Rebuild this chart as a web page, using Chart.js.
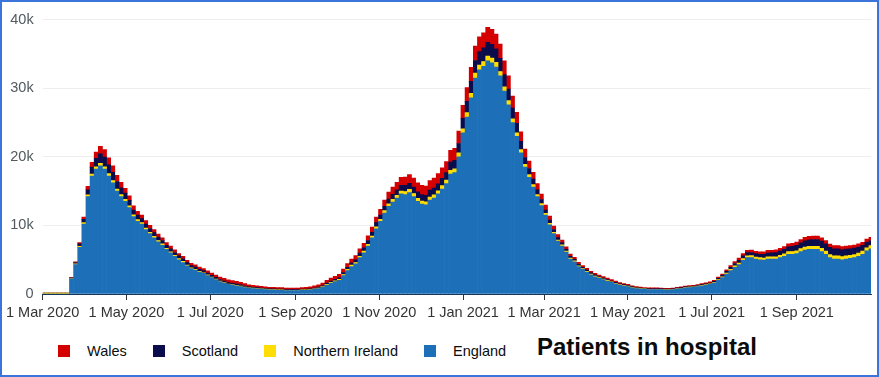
<!DOCTYPE html>
<html>
<head>
<meta charset="utf-8">
<script src="https://cdn.jsdelivr.net/npm/chart.js@4.4.1/dist/chart.umd.min.js"></script>
<style>
  body { margin: 0; background: #fff; }
  #frame { position: relative; width: 879px; height: 377px; box-sizing: border-box; border: 2px solid #3b75dc; background: #fff; overflow: hidden; font-family: 'Liberation Sans', Arial, sans-serif; }
  #plot { position: absolute; left: 0; top: 0; width: 875px; height: 322px; }
  #foot { position: absolute; left: 56px; top: 334px; height: 30px; display: flex; align-items: center; }
  .item { display: flex; align-items: center; margin-right: 26px; font-size: 14.5px; color: #0b0c0c; }
  .swatch { width: 12px; height: 12px; margin-right: 17px; }
  #title { position: absolute; left: 535px; top: 331px; font-size: 24px; font-weight: bold; color: #0b0c0c; }
</style>
</head>
<body>
<div id="frame">
  <div id="plot"><canvas id="chart"></canvas></div>
  <div id="foot"></div>
  <div id="title">Patients in hospital</div>
</div>
<script>
// patients in hospital, thousands, one value every 3 days from 1 Mar 2020
const stepDays = 3;

const england = [
  0, 0, 0, 0, 0, 0, 0, 2.2, 4.3, 6.8,
  10.2, 14.2, 17.2, 18.2, 18.7, 18.2, 17.2, 16.2, 15.0, 14.2,
  13.5, 12.6, 11.3, 10.6, 10.2, 9.4, 8.8, 8.2, 7.6, 7.1,
  6.5, 6.0, 5.5, 5.0, 4.6, 4.1, 3.7, 3.5, 3.2, 3.0,
  2.7, 2.4, 2.1, 1.8, 1.6, 1.4, 1.3, 1.2, 1.1, 0.95,
  0.85, 0.8, 0.75, 0.7, 0.65, 0.6, 0.6, 0.55, 0.55, 0.5,
  0.5, 0.5, 0.5, 0.55, 0.55, 0.6, 0.7, 0.8, 1.0, 1.3,
  1.6, 1.8, 2.0, 2.7, 3.4, 4.0, 4.4, 5.3, 6.0, 7.0,
  8.2, 9.5, 10.6, 11.8, 12.8, 13.4, 14.0, 14.6, 14.5, 14.8,
  14.2, 13.5, 13.1, 13.0, 13.7, 14.0, 14.6, 15.3, 16.1, 17.5,
  17.7, 20.0, 23.5, 25.8, 28.6, 31.5, 32.7, 33.2, 34.0, 33.7,
  33.1, 31.8, 29.6, 27.6, 25.0, 23.0, 20.6, 18.5, 17.0, 15.6,
  14.2, 12.9, 11.5, 10.1, 8.8, 7.7, 7.0, 6.1, 5.1, 4.7,
  4.0, 3.6, 3.2, 2.8, 2.5, 2.3, 2.1, 1.9, 1.7, 1.5,
  1.3, 1.2, 1.1, 0.9, 0.8, 0.75, 0.7, 0.65, 0.65, 0.65,
  0.65, 0.6, 0.6, 0.65, 0.75, 0.8, 0.9, 0.95, 1.0, 1.1,
  1.2, 1.3, 1.4, 1.6, 2.0, 2.4, 2.9, 3.4, 3.9, 4.3,
  4.9, 5.3, 5.3, 5.1, 5.0, 4.95, 5.1, 5.1, 5.1, 5.3,
  5.5, 5.8, 5.8, 5.9, 6.2, 6.4, 6.5, 6.5, 6.5, 6.2,
  5.8, 5.3, 5.1, 5.1, 5.0, 5.1, 5.2, 5.3, 5.5, 5.8,
  6.3, 6.6
];

const northernIreland = [
  0.15, 0.15, 0.15, 0.15, 0.15, 0.15, 0.15, 0.05, 0.1, 0.15,
  0.2, 0.25, 0.3, 0.35, 0.35, 0.35, 0.35, 0.35, 0.3, 0.3,
  0.3, 0.25, 0.25, 0.25, 0.2, 0.2, 0.2, 0.2, 0.2, 0.2,
  0.15, 0.15, 0.15, 0.15, 0.15, 0.12, 0.1, 0.1, 0.1, 0.1,
  0.08, 0.08, 0.07, 0.07, 0.07, 0.06, 0.06, 0.06, 0.05, 0.05,
  0.05, 0.05, 0.05, 0.05, 0.05, 0.05, 0.05, 0.05, 0.05, 0.05,
  0.05, 0.05, 0.05, 0.05, 0.05, 0.05, 0.06, 0.07, 0.08, 0.1,
  0.1, 0.12, 0.15, 0.15, 0.2, 0.2, 0.2, 0.2, 0.25, 0.25,
  0.25, 0.3, 0.3, 0.35, 0.35, 0.4, 0.4, 0.4, 0.45, 0.45,
  0.45, 0.45, 0.45, 0.45, 0.45, 0.45, 0.45, 0.5, 0.5, 0.55,
  0.55, 0.6, 0.6, 0.65, 0.65, 0.7, 0.7, 0.7, 0.7, 0.7,
  0.7, 0.65, 0.6, 0.6, 0.55, 0.5, 0.45, 0.4, 0.4, 0.35,
  0.3, 0.28, 0.25, 0.22, 0.2, 0.18, 0.16, 0.15, 0.14, 0.12,
  0.12, 0.1, 0.1, 0.1, 0.1, 0.09, 0.08, 0.08, 0.07, 0.07,
  0.06, 0.06, 0.05, 0.05, 0.05, 0.05, 0.04, 0.04, 0.04, 0.04,
  0.04, 0.04, 0.04, 0.04, 0.04, 0.04, 0.05, 0.05, 0.05, 0.05,
  0.06, 0.06, 0.07, 0.08, 0.1, 0.12, 0.15, 0.18, 0.2, 0.22,
  0.25, 0.28, 0.3, 0.3, 0.3, 0.3, 0.32, 0.32, 0.33, 0.35,
  0.35, 0.38, 0.4, 0.4, 0.42, 0.45, 0.45, 0.45, 0.45, 0.45,
  0.45, 0.45, 0.45, 0.45, 0.45, 0.45, 0.45, 0.45, 0.45, 0.45,
  0.45, 0.45
];

const scotland = [
  0, 0, 0, 0, 0, 0, 0, 0.1, 0.2, 0.35,
  0.5, 0.75, 1.0, 1.25, 1.4, 1.4, 1.3, 1.2, 1.1, 1.0,
  0.9, 0.8, 0.7, 0.65, 0.6, 0.6, 0.55, 0.55, 0.5, 0.5,
  0.45, 0.45, 0.4, 0.4, 0.38, 0.35, 0.33, 0.32, 0.3, 0.3,
  0.28, 0.26, 0.25, 0.24, 0.22, 0.2, 0.2, 0.18, 0.18, 0.16,
  0.15, 0.14, 0.13, 0.12, 0.12, 0.11, 0.1, 0.1, 0.1, 0.1,
  0.1, 0.1, 0.1, 0.1, 0.1, 0.1, 0.12, 0.14, 0.16, 0.18,
  0.2, 0.22, 0.25, 0.28, 0.3, 0.35, 0.4, 0.45, 0.5, 0.55,
  0.55, 0.6, 0.6, 0.65, 0.7, 0.75, 0.8, 0.85, 0.9, 0.9,
  0.95, 0.95, 0.95, 0.95, 1.0, 1.0, 1.0, 1.05, 1.1, 1.2,
  1.25, 1.35, 1.5, 1.65, 1.75, 1.85, 1.95, 2.0, 2.0, 2.0,
  1.95, 1.9, 1.8, 1.7, 1.55, 1.4, 1.2, 1.0, 0.9, 0.8,
  0.7, 0.6, 0.5, 0.45, 0.4, 0.35, 0.3, 0.28, 0.26, 0.24,
  0.22, 0.2, 0.2, 0.18, 0.18, 0.16, 0.15, 0.14, 0.13, 0.12,
  0.12, 0.1, 0.1, 0.09, 0.08, 0.08, 0.07, 0.07, 0.07, 0.07,
  0.07, 0.07, 0.07, 0.07, 0.08, 0.08, 0.09, 0.1, 0.1, 0.1,
  0.11, 0.12, 0.13, 0.15, 0.18, 0.2, 0.25, 0.3, 0.35, 0.4,
  0.42, 0.45, 0.45, 0.48, 0.5, 0.52, 0.55, 0.58, 0.6, 0.6,
  0.65, 0.7, 0.75, 0.8, 0.85, 0.9, 0.95, 1.0, 1.0, 1.05,
  1.05, 1.05, 1.05, 1.05, 1.0, 1.0, 0.95, 0.95, 0.9, 0.85,
  0.8, 0.75
];

const wales = [
  0, 0, 0, 0, 0, 0, 0, 0.05, 0.1, 0.2,
  0.3, 0.5, 0.7, 0.9, 1.1, 1.1, 1.0, 0.95, 0.9, 0.8,
  0.7, 0.65, 0.6, 0.55, 0.5, 0.5, 0.45, 0.45, 0.45, 0.4,
  0.4, 0.4, 0.38, 0.36, 0.35, 0.35, 0.34, 0.33, 0.33, 0.32,
  0.32, 0.32, 0.34, 0.36, 0.38, 0.4, 0.4, 0.4, 0.38, 0.35,
  0.3, 0.28, 0.26, 0.25, 0.23, 0.22, 0.22, 0.22, 0.22, 0.22,
  0.22, 0.22, 0.22, 0.24, 0.26, 0.28, 0.3, 0.32, 0.35, 0.4,
  0.42, 0.45, 0.48, 0.5, 0.52, 0.55, 0.6, 0.62, 0.65, 0.7,
  0.75, 0.8, 0.85, 0.9, 1.0, 1.05, 1.1, 1.15, 1.2, 1.25,
  1.3, 1.3, 1.35, 1.35, 1.4, 1.45, 1.5, 1.55, 1.6, 1.7,
  1.75, 1.8, 1.9, 2.0, 2.05, 2.1, 2.15, 2.2, 2.2, 2.2,
  2.15, 2.1, 2.0, 1.9, 1.75, 1.6, 1.4, 1.25, 1.1, 1.0,
  0.9, 0.8, 0.7, 0.6, 0.5, 0.45, 0.4, 0.36, 0.33, 0.3,
  0.28, 0.26, 0.25, 0.24, 0.23, 0.22, 0.21, 0.2, 0.2, 0.19,
  0.18, 0.17, 0.16, 0.15, 0.15, 0.14, 0.14, 0.13, 0.13, 0.13,
  0.12, 0.12, 0.12, 0.12, 0.12, 0.12, 0.12, 0.13, 0.13, 0.13,
  0.14, 0.15, 0.16, 0.17, 0.18, 0.2, 0.22, 0.25, 0.28, 0.3,
  0.32, 0.35, 0.35, 0.35, 0.36, 0.37, 0.38, 0.38, 0.4, 0.4,
  0.42, 0.44, 0.45, 0.46, 0.48, 0.5, 0.5, 0.5, 0.5, 0.5,
  0.5, 0.48, 0.46, 0.45, 0.45, 0.45, 0.45, 0.45, 0.45, 0.45,
  0.45, 0.45
];

// x axis: days since 1 Mar 2020
const tickDays = [0, 61, 122, 184, 245, 306, 365, 426, 487, 549];
const tickLabels = ['1 Mar 2020', '1 May 2020', '1 Jul 2020', '1 Sep 2020', '1 Nov 2020',
                    '1 Jan 2021', '1 Mar 2021', '1 May 2021', '1 Jul 2021', '1 Sep 2021'];
const lastDay = 603;

const seriesNames = ['England', 'Northern Ireland', 'Scotland', 'Wales'];
const seriesColors = ['#1d70b8', '#ffdd00', '#0b0c4b', '#d40000'];
const seriesData = [england, northernIreland, scotland, wales];

const days = england.map((v, i) => i * stepDays);

// legend (top of stack first)
const foot = document.getElementById('foot');
for (let i = seriesNames.length - 1; i >= 0; i--) {
    const item = document.createElement('div');
    item.className = 'item';
    const sw = document.createElement('span');
    sw.className = 'swatch';
    sw.style.background = seriesColors[i];
    item.appendChild(sw);
    item.appendChild(document.createTextNode(seriesNames[i]));
    foot.appendChild(item);
}

const tickFont = { family: "'Liberation Sans', Arial, sans-serif", size: 14.5 };

var ctx = document.getElementById('chart').getContext('2d');
var myChart = new Chart(ctx, {
    type: 'bar',
    data: {
        labels: days,
        datasets: seriesNames.map((name, i) => ({
            label: name,
            data: seriesData[i],
            backgroundColor: seriesColors[i],
            borderWidth: 0,
            barPercentage: 1,
            categoryPercentage: 1
        }))
    },
    options: {
        responsive: true,
        maintainAspectRatio: false,
        animation: false,
        devicePixelRatio: 1,
        layout: { padding: { top: 12, right: 6, left: 0, bottom: 0 } },
        plugins: {
            legend: { display: false },
            tooltip: { enabled: false }
        },
        scales: {
            x: {
                type: 'linear',
                stacked: true,
                offset: false,
                min: 0,
                max: lastDay,
                z: 1,
                afterBuildTicks: s => { s.ticks = tickDays.map(d => ({ value: d })); },
                afterFit: s => { s.height = 30; },
                ticks: {
                    autoSkip: false,
                    maxRotation: 0,
                    padding: 4,
                    color: '#333333',
                    font: tickFont,
                    callback: (v, i) => tickLabels[i]
                },
                grid: {
                    offset: false,
                    drawOnChartArea: false,
                    drawTicks: true,
                    tickLength: 6,
                    color: '#333333'
                },
                border: { display: true, color: '#17345a', dash: [3, 2] }
            },
            y: {
                stacked: true,
                min: 0,
                max: 40,
                afterFit: s => { s.width = 40; },
                ticks: {
                    stepSize: 10,
                    padding: 9,
                    color: '#505a5f',
                    font: tickFont,
                    callback: v => v === 0 ? '0' : v + 'k'
                },
                grid: { color: '#eeeeee', drawTicks: false },
                border: { display: false }
            }
        }
    }
});
</script>
</body>
</html>
